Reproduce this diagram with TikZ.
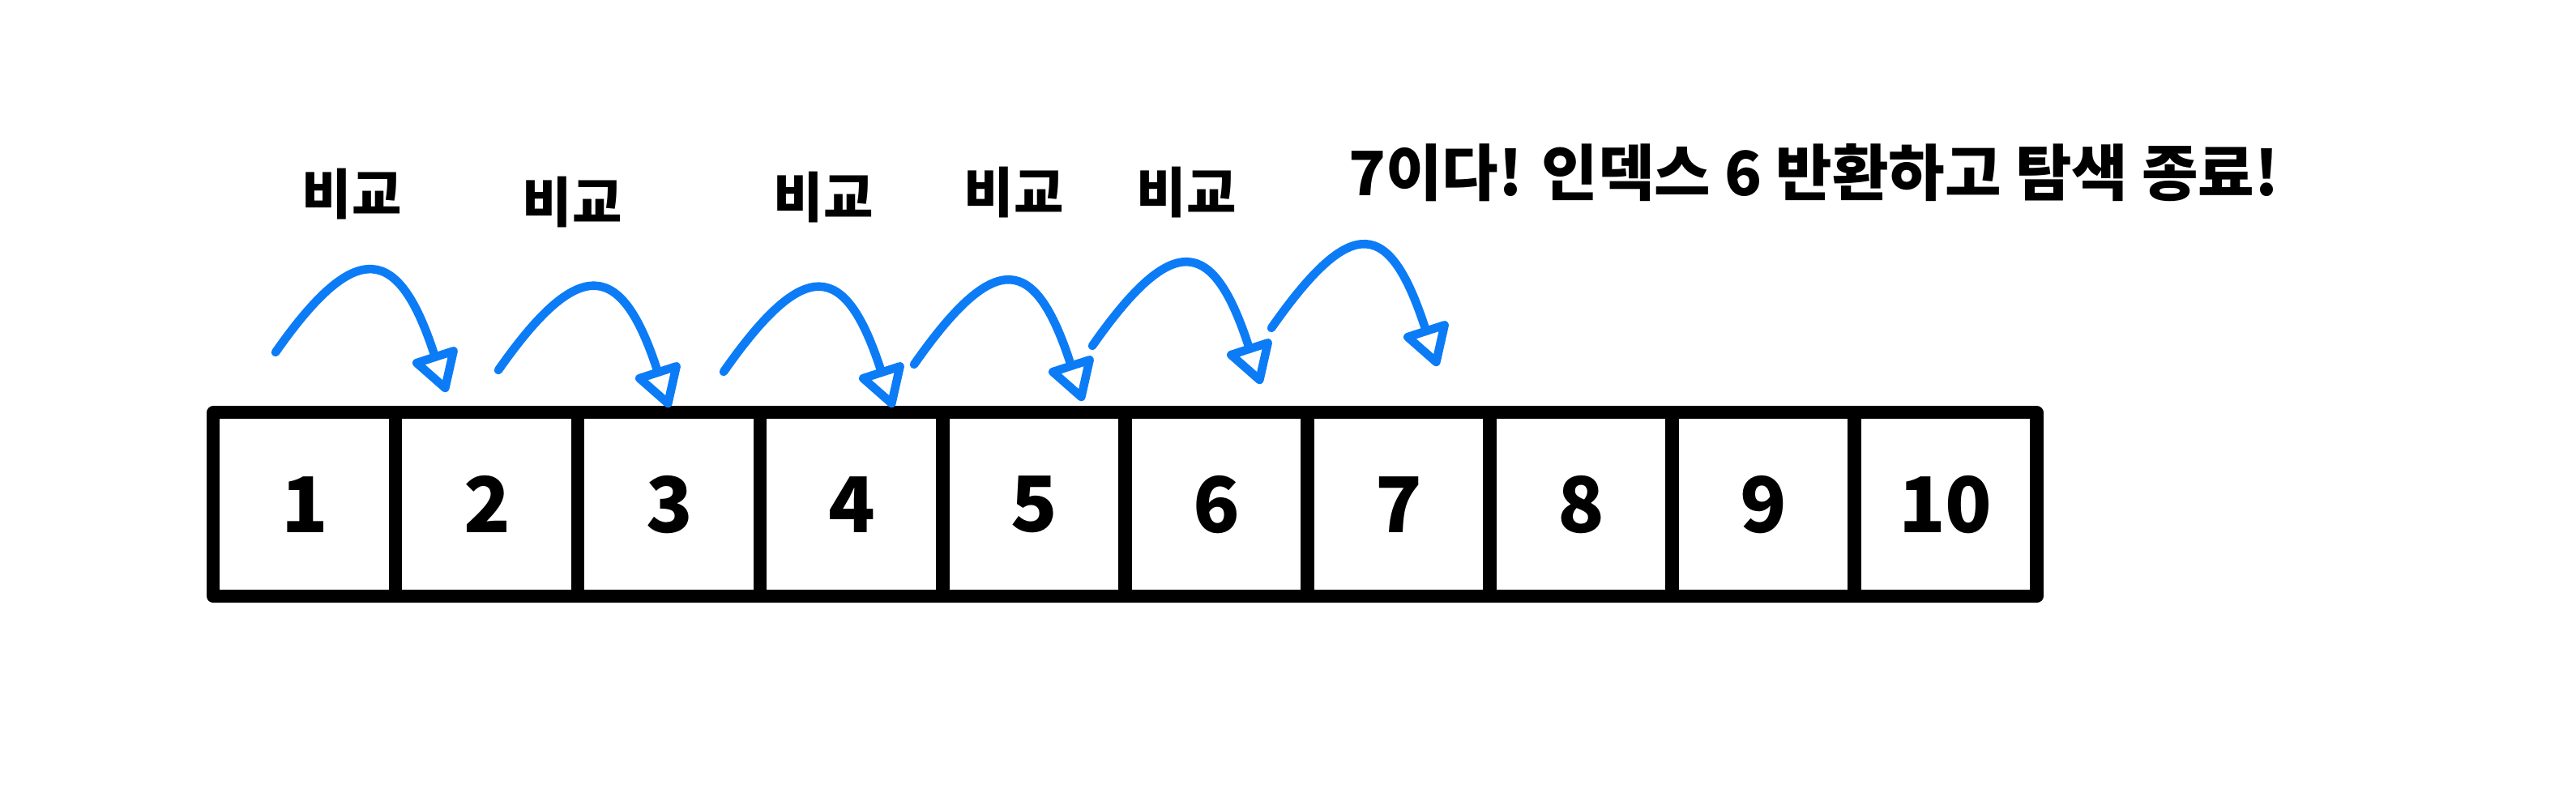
\documentclass[tikz,border=0pt]{standalone}
\usepackage{fontspec}
\setmainfont{Noto Sans CJK KR}
\usetikzlibrary{positioning,arrows.meta}
\definecolor{jumpblue}{RGB}{12,124,246}
\begin{document}
\begin{tikzpicture}[line cap=round,line join=round,font=\bfseries]
  \tikzset{cell/.style={draw,line width=4.6pt,minimum width=2.25cm,minimum height=2.27cm,
      outer sep=0pt,font=\fontsize{27}{27}\selectfont\bfseries},
    jump/.style={draw=jumpblue,line width=3pt,
      -{Triangle[open,round,length=16pt,width=18pt,fill=white]}},
    hop/.style={out=55,in=108,out distance=1.75cm,in distance=1.9cm},
    cmp/.style={font=\fontsize{19}{19}\selectfont\bfseries}}
  \useasboundingbox (0,0) rectangle (31.79,10);
  \node[cell] (c1) at (3.759,3.771) {1};
  \foreach \i [count=\j from 1] in {2,...,10}{
      \node[cell,right=0pt of c\j] (c\i) {\i};}
  % start / tip of each jump
  \foreach \k/\sx/\sy/\tx/\ty in {1/3.40/5.65/5.51/5.16,2/6.15/5.43/8.26/4.97,
      3/8.93/5.41/11.02/4.97,4/11.28/5.50/13.36/5.05,5/13.48/5.73/15.56/5.26,
      6/15.69/5.95/17.74/5.48}{
      \coordinate (s\k) at (\sx,\sy);
      \coordinate (t\k) at (\tx,\ty);
      \draw[jump] (s\k) to[hop] (t\k);}
  \foreach \k/\x/\y in {1/4.34/7.60,2/7.06/7.50,3/10.16/7.56,4/12.51/7.62,5/14.64/7.62}{
      \node[cmp] (cmp\k) at (\x,\y) {비교};}
  \node[cmp,anchor=west,font=\fontsize{21.5}{21.5}\selectfont\bfseries] (found) at (16.52,7.87)
      {7이다! 인덱스 6 반환하고 탐색 종료!};
\end{tikzpicture}
\end{document}
